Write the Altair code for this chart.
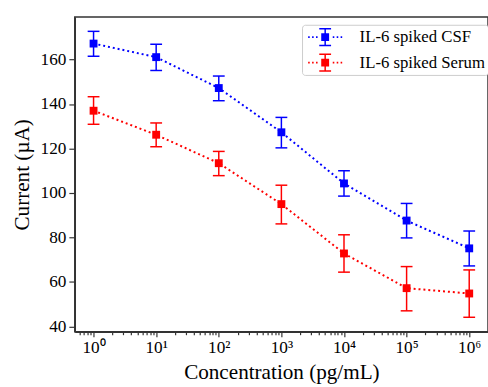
import altair as alt
import pandas as pd

conc = [1, 10, 100, 1000, 1e4, 1e5, 1e6]
series = ["IL-6 spiked CSF", "IL-6 spiked Serum"]
colors = ["#0000ff", "#ff0000"]
csf_mean = [167.2, 161.1, 147.2, 127.3, 104.3, 87.6, 75.1]
csf_low = [161.5, 155.1, 141.5, 120.3, 98.6, 79.8, 67.2]
csf_high = [172.7, 166.9, 152.6, 134.0, 110.0, 95.3, 82.9]
serum_mean = [137.0, 126.2, 113.4, 95.0, 72.8, 57.2, 54.8]
serum_low = [130.9, 120.8, 107.8, 86.1, 64.4, 47.0, 44.1]
serum_high = [143.3, 131.5, 118.7, 103.5, 81.2, 66.9, 65.4]
y_ticks = [40, 60, 80, 100, 120, 140, 160]
x_major = [1, 10, 100, 1000, 1e4, 1e5, 1e6]
superscripts = ["⁰", "¹", "²", "³", "⁴", "⁵", "⁶"]

x_minor = [m / 10 for m in range(6, 10)] + [m * 10 ** k for k in range(0, 7) for m in range(2, 10)]
x_minor = [v for v in x_minor if v < 2e6]

rows = []
for name, mean, lo, hi in [(series[0], csf_mean, csf_low, csf_high),
                           (series[1], serum_mean, serum_low, serum_high)]:
    for c, m, l, h in zip(conc, mean, lo, hi):
        rows.append({"conc": c, "series": name, "mean": m, "low": l, "high": h})
df = pd.DataFrame(rows)

FONT = "Times New Roman, Liberation Serif, serif"

# legend symbol: dotted line + errorbar + square (unit = 10 px)
def rect(x0, y0, x1, y1):
    return f"M{x0},{y0}H{x1}V{y1}H{x0}Z"

parts = [rect(-0.4, -0.4, 0.4, 0.4),
         rect(-0.075, -0.85, 0.075, 0.85),
         rect(-0.6, -0.925, 0.6, -0.775),
         rect(-0.6, 0.775, 0.6, 0.925)]
for cx in [-1.65, -1.25, -0.85, 0.85, 1.25, 1.65]:
    parts.append(rect(round(cx - 0.08, 3), -0.09, round(cx + 0.08, 3), 0.09))
legend_path = " ".join(parts)

decade = "abs(log(datum.value)/LN10 - round(log(datum.value)/LN10)) < 0.001"
sup_arr = "[" + ",".join(f"'{s}'" for s in superscripts) + "]"
label_expr = f"{decade} ? '10' + {sup_arr}[round(log(datum.value)/LN10)] : ''"

x_enc = alt.X(
    "conc:Q",
    scale=alt.Scale(type="log", domain=[10 ** -0.3, 10 ** 6.3], nice=False),
    axis=alt.Axis(
        values=sorted(x_major + x_minor),
        labelExpr=label_expr,
        tickSize={"condition": {"test": decade, "value": 5}, "value": 3},
        labelOverlap=False,
        labelFlush=False,
        grid=False,
        title="Concentration (pg/mL)",
        labelFont=FONT, titleFont=FONT,
        labelFontSize=17.5,
        labelPadding=2,
        titlePadding=6,
    ),
)
color_scale = alt.Scale(domain=series, range=colors)
y_scale = alt.Scale(domain=[37.6, 179.2], nice=False, zero=False)

base = alt.Chart(df)

line = base.mark_line(strokeDash=[2, 3], strokeWidth=2).encode(
    x=x_enc,
    y=alt.Y("mean:Q", scale=y_scale,
            axis=alt.Axis(values=y_ticks, grid=False, title="Current (µA)",
                          labelFont=FONT, titleFont=FONT,
                          labelFontSize=17.5, tickSize=6, labelPadding=3, titlePadding=7)),
    color=alt.Color("series:N", scale=color_scale, legend=None),
)
rule = base.mark_rule(strokeWidth=1.5).encode(
    x=x_enc,
    y=alt.Y("low:Q", scale=y_scale),
    y2="high:Q",
    color=alt.Color("series:N", scale=color_scale, legend=None),
)
cap_lo = base.mark_tick(orient="horizontal", size=12, thickness=1.5, opacity=1).encode(
    x=x_enc,
    y=alt.Y("low:Q", scale=y_scale),
    color=alt.Color("series:N", scale=color_scale, legend=None),
)
cap_hi = base.mark_tick(orient="horizontal", size=12, thickness=1.5, opacity=1).encode(
    x=x_enc,
    y=alt.Y("high:Q", scale=y_scale),
    color=alt.Color("series:N", scale=color_scale, legend=None),
)
pts = base.mark_square(size=64, opacity=1, filled=True).encode(
    x=x_enc,
    y=alt.Y("mean:Q", scale=y_scale),
    color=alt.Color(
        "series:N", scale=color_scale,
        legend=alt.Legend(
            title=None, orient="none", legendX=231, legendY=8,
            symbolType=legend_path, symbolSize=400, symbolStrokeWidth=0,
            symbolOffset=11, labelOffset=25, rowPadding=6, padding=2.5,
            labelFontSize=17, labelFont=FONT, labelColor="black",
            strokeColor="#cccccc", fillColor="white", cornerRadius=3,
            labelLimit=300,
        ),
    ),
)

chart = alt.layer(line, rule, cap_lo, cap_hi, pts).resolve_legend(
    color="independent"
).properties(
    width=420, height=320,
    autosize=alt.AutoSizeParams(type="none"),
    padding={"left": 76, "top": 14, "right": 0, "bottom": 53},
).configure(
    font=FONT,
).configure_view(
    stroke="#333333", strokeWidth=1.5,
).configure_axis(
    labelFont=FONT, titleFont=FONT, labelColor="black", titleColor="black",
    titleFontSize=21.5, titleFontWeight="normal",
    domainColor="#333333", domainWidth=1.5, tickColor="#333333", tickWidth=1.2,
)

chart.save("out.html", embed_options={"renderer": "svg", "actions": False})
